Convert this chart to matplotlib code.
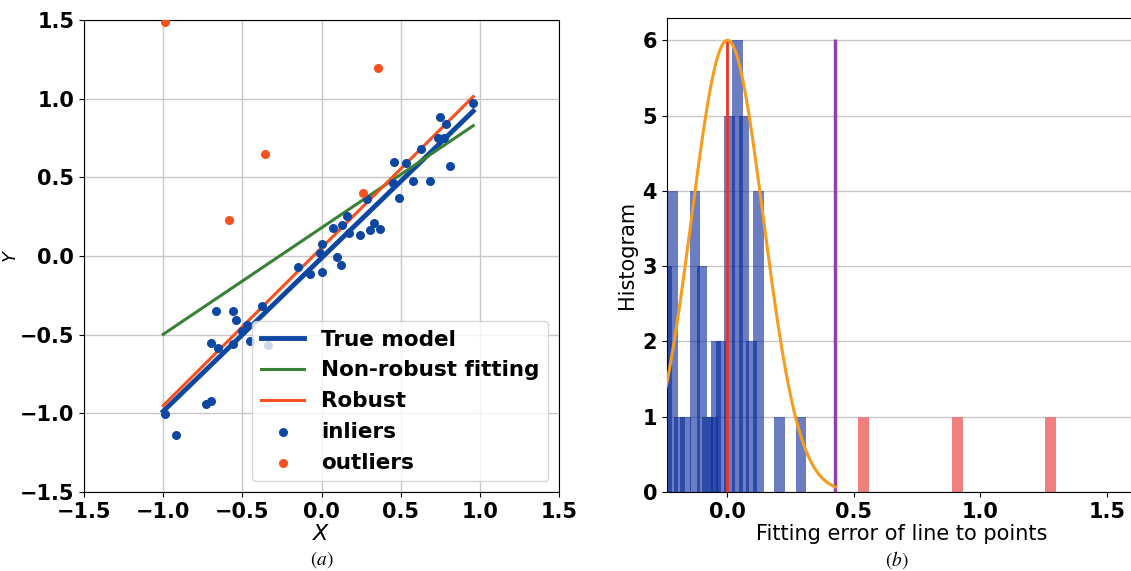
import matplotlib
matplotlib.use("Agg")
import matplotlib.pyplot as plt
import numpy as np

# --- panel (a): points and fitted lines ---
inliers_x = [0.954, 0.749, 0.783, 0.734, 0.774, 0.814, 0.629, 0.460, 0.534, 0.576,
             0.686, 0.492, 0.451, 0.285, 0.160, 0.072, 0.128, 0.175, 0.245, 0.308,
             0.333, 0.369, 0.000, 0.095, 0.124, 0.006, -0.148, -0.070, -0.010,
             -0.665, -0.559, -0.542, -0.378, -0.698, -0.654, -0.561, -0.454,
             -0.470, -0.500, -0.340, -0.732, -0.698, -0.989, -0.918]
inliers_y = [0.972, 0.885, 0.840, 0.751, 0.751, 0.572, 0.683, 0.595, 0.592, 0.479,
             0.474, 0.370, 0.464, 0.360, 0.253, 0.177, 0.194, 0.145, 0.132, 0.166,
             0.211, 0.172, 0.074, -0.004, -0.055, -0.104, -0.068, -0.117, 0.020,
             -0.347, -0.347, -0.406, -0.317, -0.553, -0.583, -0.557, -0.542,
             -0.440, -0.480, -0.564, -0.940, -0.919, -1.004, -1.136]
outliers_x = [-0.989, 0.357, -0.359, -0.582, 0.259]
outliers_y = [1.487, 1.193, 0.647, 0.230, 0.402]

line_x = [-1.0, 0.958]
true_model = [-0.987, 0.921]
non_robust = [-0.498, 0.828]
robust = [-0.951, 1.013]

# --- panel (b): fitting error histogram ---
inlier_bar_pos = [-0.240, -0.215, -0.190, -0.165, -0.128, -0.101, -0.080, -0.060,
                  -0.045, -0.025, 0.008, 0.040, 0.065, 0.094, 0.123, 0.206, 0.291]
inlier_bar_h = [3, 4, 1, 1, 4, 3, 1, 1, 2, 2, 5, 6, 5, 2, 4, 1, 1]
outlier_bar_pos = [0.537, 0.909, 1.277]
outlier_bar_h = [1, 1, 1]
sigma = 0.142
peak = 6

BLUE = "#0d47a1"
GREEN = "#3a8135"
RED = "#f4511e"

plt.rcParams["font.size"] = 15

fig = plt.figure(figsize=(11.31, 5.71), dpi=100)
ax1 = fig.add_axes([0.0743, 0.1384, 0.42, 0.8266])
ax2 = fig.add_axes([0.5895, 0.1384, 0.4155, 0.8306])

ax1.plot(line_x, true_model, color=BLUE, lw=3.5, label="True model")
ax1.plot(line_x, non_robust, color=GREEN, lw=2.2, label="Non-robust fitting")
ax1.plot(line_x, robust, color=RED, lw=2.2, label="Robust")
ax1.scatter(inliers_x, inliers_y, s=30, color=BLUE, label="inliers", zorder=3)
ax1.scatter(outliers_x, outliers_y, s=30, color=RED, label="outliers", zorder=3)
ax1.set_xlim(-1.5, 1.5)
ax1.set_ylim(-1.5, 1.5)
ax1.set_xticks(np.arange(-1.5, 1.51, 0.5))
ax1.set_yticks(np.arange(-1.5, 1.51, 0.5))
ax1.grid(True, color="#c8c8c8", lw=1)
ax1.set_axisbelow(True)
ax1.set_xlabel("$X$", fontsize=16, labelpad=2)
ax1.set_ylabel("$Y$", fontsize=13)
ax1.yaxis.set_label_coords(-0.135, 0.5)
for lab in ax1.get_xticklabels() + ax1.get_yticklabels():
    lab.set_fontweight("bold")
    lab.set_fontsize(15)
ax1.legend(loc="lower right", prop={"weight": "bold", "size": 15.5}, framealpha=0.8)

ax2.bar(inlier_bar_pos, inlier_bar_h, width=0.042, color="#08299a", alpha=0.6, zorder=2)
ax2.bar(outlier_bar_pos, outlier_bar_h, width=0.043, color="#f08080", zorder=2)
gx = np.linspace(-3 * sigma, 3 * sigma, 300)
ax2.plot(gx, peak * np.exp(-gx ** 2 / (2 * sigma ** 2)), color="#f89c1c", lw=2.2, zorder=4)
ax2.vlines(0, 0, peak, color="#ee3322", lw=2, zorder=3)
ax2.vlines(3 * sigma, 0, 6.02, color="#8e44ad", lw=2.5, zorder=3)
ax2.set_xlim(-0.24, 1.618)
ax2.set_ylim(0, 6.3)
ax2.set_xticks([0.0, 0.5, 1.0, 1.5])
ax2.set_yticks(range(0, 7))
ax2.yaxis.grid(True, color="#c8c8c8", lw=1)
ax2.set_axisbelow(True)
ax2.spines["right"].set_visible(False)
ax2.set_xlabel("Fitting error of line to points", fontsize=15, labelpad=2)
ax2.set_ylabel("Histogram", fontsize=15)
for lab in ax2.get_xticklabels() + ax2.get_yticklabels():
    lab.set_fontweight("bold")
    lab.set_fontsize(15)

fig.text(322 / 1131, 1 - 560 / 571, "$(a)$", ha="center", va="center",
         fontsize=14, math_fontfamily="stix")
fig.text(897 / 1131, 1 - 560 / 571, "$(b)$", ha="center", va="center",
         fontsize=14, math_fontfamily="stix")

fig.savefig("out.png", dpi=100)
